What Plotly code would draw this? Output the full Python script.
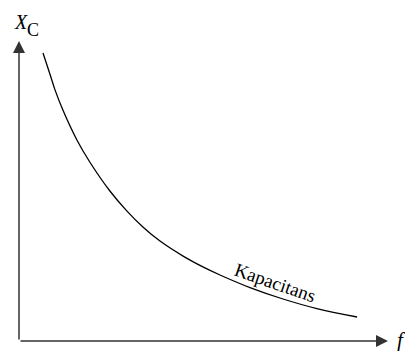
import plotly.graph_objects as go

# Capacitive reactance X_C versus frequency f (arbitrary units)
frequency = [0.80, 1.03, 1.20, 1.47, 1.93, 2.37, 3.03, 3.60, 4.13, 4.70,
             5.47, 6.13, 6.70, 7.70, 8.80, 9.93, 11.27]
reactance = [9.60, 8.90, 8.37, 7.68, 6.70, 5.95, 5.00, 4.33, 3.80, 3.33,
             2.83, 2.47, 2.20, 1.78, 1.40, 1.08, 0.80]

x_axis_end = 12.3
y_axis_end = 10.0

fig = go.Figure()
fig.add_trace(go.Scatter(
    x=frequency, y=reactance, mode="lines",
    line=dict(color="black", width=1.3, shape="spline", smoothing=1.0),
    hoverinfo="skip", showlegend=False,
))

serif = "'Times New Roman', 'Liberation Serif', 'DejaVu Serif', serif"
axis_col = "#333333"

annotations = [
    # x axis arrow
    dict(x=x_axis_end, y=0, ax=0, ay=0, xref="x", yref="y", axref="x", ayref="y",
         showarrow=True, arrowhead=2, arrowsize=1.6, arrowwidth=1.5,
         arrowcolor=axis_col, text=""),
    # y axis arrow
    dict(x=0, y=y_axis_end, ax=0, ay=0, xref="x", yref="y", axref="x", ayref="y",
         showarrow=True, arrowhead=2, arrowsize=1.6, arrowwidth=1.5,
         arrowcolor=axis_col, text=""),
    dict(x=0.07, y=10.62, xref="x", yref="y", showarrow=False,
         text="<i>X</i>", font=dict(family=serif, size=20, color="black")),
    dict(x=0.47, y=10.38, xref="x", yref="y", showarrow=False,
         text="C", font=dict(family=serif, size=18, color="black")),
    dict(x=12.75, y=0.05, xref="x", yref="y", showarrow=False,
         text="<i>f</i>", font=dict(family=serif, size=21, color="black")),
    dict(x=8.52, y=1.95, xref="x", yref="y", showarrow=False, textangle=19,
         text="Kapacitans", font=dict(family=serif, size=19, color="black")),
]

fig.update_layout(
    width=405, height=351,
    margin=dict(l=0, r=0, t=0, b=0),
    paper_bgcolor="white", plot_bgcolor="white",
    xaxis=dict(range=[-19 / 30, 386 / 30], visible=False, fixedrange=True),
    yaxis=dict(range=[-10 / 30, 341 / 30], visible=False, fixedrange=True),
    annotations=annotations,
)

fig.write_html("out.html")
